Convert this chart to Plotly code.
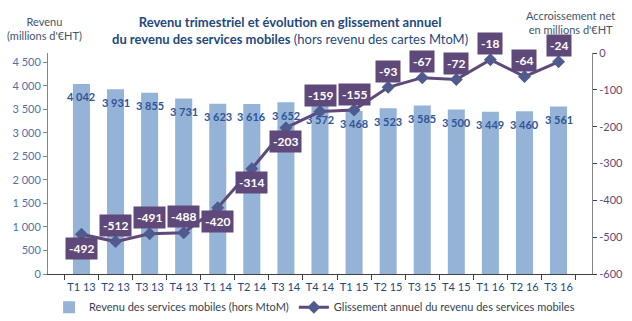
import plotly.graph_objects as go

# Quarterly mobile service revenue (millions of euros, excl. MtoM)
quarters = ["T1 13", "T2 13", "T3 13", "T4 13", "T1 14", "T2 14", "T3 14", "T4 14",
            "T1 15", "T2 15", "T3 15", "T4 15", "T1 16", "T2 16", "T3 16"]
revenue = [4042, 3931, 3855, 3731, 3623, 3616, 3652, 3572,
           3468, 3523, 3585, 3500, 3449, 3460, 3561]
# Year-on-year net change (millions of euros)
yoy_change = [-492, -512, -491, -488, -420, -314, -203, -159,
              -155, -93, -67, -72, -18, -64, -24]

left_ticks = list(range(0, 4501, 500))
right_ticks = list(range(-600, 1, 100))

BAR_COLOR = "#95B3D7"
LINE_COLOR = "#5F497A"
MARKER_COLOR = "#4F5B8F"
BLUE_TEXT = "#2F5597"
AXIS_COLOR = "#868686"
FONT = "Lato"


def fr_num(v):
    return f"{v:,}".replace(",", " ")


fig = go.Figure()

fig.add_trace(go.Bar(
    x=quarters, y=revenue,
    name="Revenu des services mobiles (hors MtoM)",
    marker=dict(color=BAR_COLOR, line=dict(width=0)),
    width=0.5,
    yaxis="y",
))

fig.add_trace(go.Scatter(
    x=quarters, y=yoy_change,
    name="Glissement annuel du revenu des services mobiles",
    mode="lines+markers",
    line=dict(color=LINE_COLOR, width=3),
    marker=dict(symbol="diamond", size=10, color=MARKER_COLOR,
                line=dict(color=MARKER_COLOR, width=0)),
    yaxis="y2",
))

annotations = []

# value labels just under the top of each bar
for q, v in zip(quarters, revenue):
    annotations.append(dict(
        x=q, y=v, xref="x", yref="y", text=f"<b>{fr_num(v)}</b>", showarrow=False,
        yshift=-13, font=dict(family=FONT, size=11, color=BLUE_TEXT),
    ))

# boxed labels for the line, placed below where the line climbs steeply
below = {"T1 13", "T1 14", "T2 14", "T3 14"}
for q, v in zip(quarters, yoy_change):
    annotations.append(dict(
        x=q, y=v, xref="x", yref="y2", text=f"<b>{v}</b>", showarrow=False,
        yshift=-14 if q in below else 16,
        bgcolor=LINE_COLOR, borderpad=3,
        font=dict(family=FONT, size=12, color="white"),
    ))

# axis titles
annotations.append(dict(
    x=-0.006, y=1.111, xref="paper", yref="paper", xanchor="center", yanchor="middle",
    text="Revenu<br>(millions d'€HT)", showarrow=False, align="center",
    font=dict(family=FONT, size=11, color="#44546A"),
))
annotations.append(dict(
    x=0.961, y=1.136, xref="paper", yref="paper", xanchor="center", yanchor="middle",
    text="Accroissement net<br>en millions d'€HT", showarrow=False, align="center",
    font=dict(family=FONT, size=11, color="#44546A"),
))
# chart title
annotations.append(dict(
    x=0.445, y=1.102, xref="paper", yref="paper", xanchor="center", yanchor="middle",
    text="<b>Revenu trimestriel et évolution en glissement annuel</b><br>"
         "<b>du revenu des services mobiles</b> (hors revenu des cartes MtoM)",
    showarrow=False, align="center",
    font=dict(family=FONT, size=13, color="#1F497D"),
))

fig.update_layout(
    width=632, height=321,
    margin=dict(l=48, r=40, t=53, b=47, autoexpand=False),
    paper_bgcolor="white", plot_bgcolor="white",
    font=dict(family=FONT, size=11, color="#44546A"),
    showlegend=True,
    legend=dict(orientation="h", x=0.49, xanchor="center", y=-0.15, yanchor="middle",
                font=dict(family=FONT, size=11, color="#333F50"),
                itemwidth=30, tracegroupgap=0, bgcolor="rgba(0,0,0,0)"),
    xaxis=dict(
        type="category", tickson="boundaries", ticks="outside", ticklen=5,
        tickangle=0, tickcolor="#404040", showline=True, linecolor="#404040",
        linewidth=1, showgrid=False, ticklabelstandoff=3,
        tickfont=dict(family=FONT, size=11, color="#1F497D"),
    ),
    yaxis=dict(
        range=[0, 4700], tickvals=left_ticks, ticktext=[fr_num(t) for t in left_ticks],
        ticks="outside", ticklen=4, tickcolor=AXIS_COLOR, showline=True,
        linecolor=AXIS_COLOR, linewidth=1, showgrid=False, zeroline=False,
        tickfont=dict(family=FONT, size=11, color="#4F6FA8"),
    ),
    yaxis2=dict(
        range=[-600, 0], tickvals=right_ticks, ticktext=[str(t) for t in right_ticks],
        overlaying="y", side="right", ticks="outside", ticklen=4,
        tickcolor="#404040", showline=True, linecolor=AXIS_COLOR, linewidth=1,
        showgrid=False, zeroline=False,
        tickfont=dict(family=FONT, size=11, color="#5F497A"),
    ),
    annotations=annotations,
)

fig.write_html("out.html")
